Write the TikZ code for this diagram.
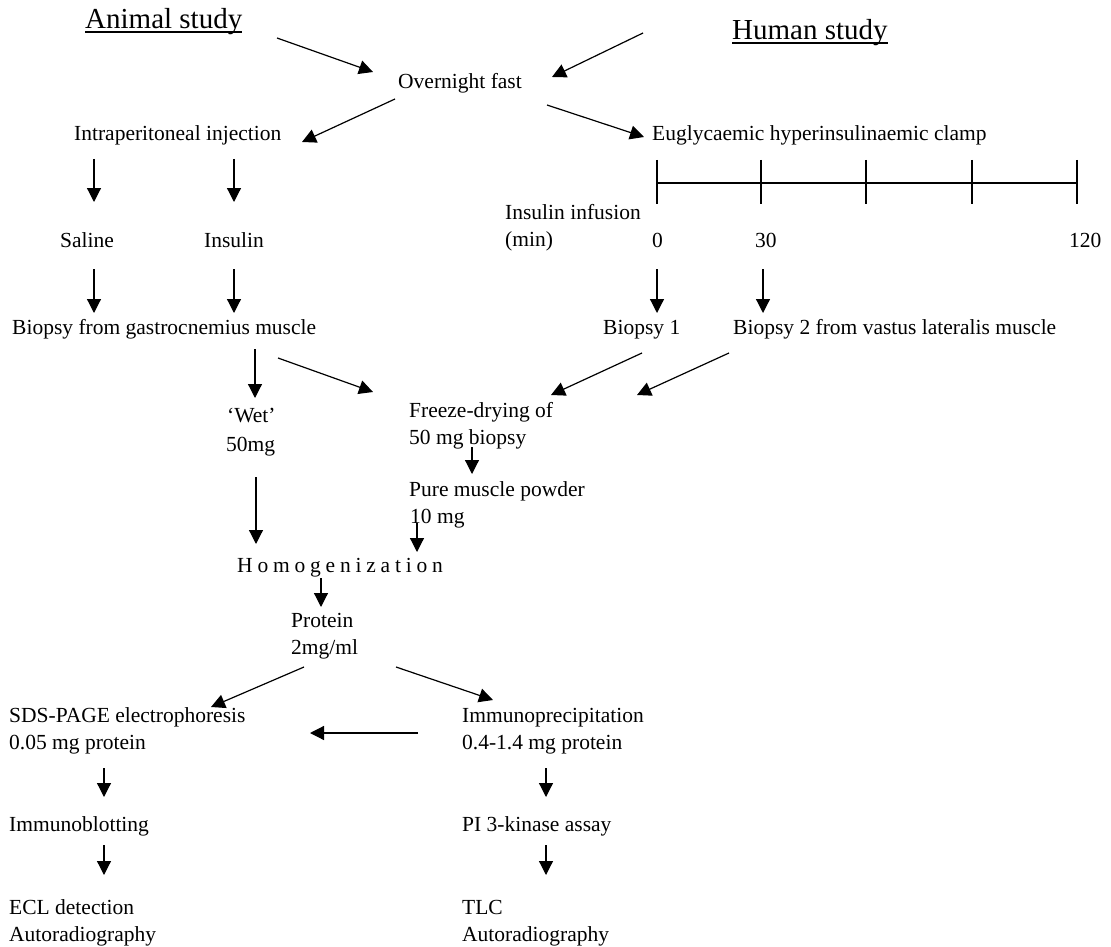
\documentclass[tikz,border=0pt]{standalone}
\usepackage{fontspec}
\setmainfont{Liberation Serif}
\usetikzlibrary{arrows.meta}
\begin{document}
\begin{tikzpicture}[x=1pt,y=-1pt,
  lbl/.style={anchor=base west, inner sep=0pt, font=\fontsize{21.5}{27}\selectfont},
  hd/.style={anchor=base west, inner sep=0pt, font=\fontsize{29}{35}\selectfont},
  arr/.style={-{Triangle[length=14pt,width=14pt]}, line width=1.2pt},
  tl/.style={line width=1.2pt}]
\useasboundingbox (0,0) rectangle (1111,947);
% headings
\node[hd] (animal) at (85,29) {Animal study};
\node[hd] (human) at (732,40) {Human study};
\draw[line width=1.3pt] ([yshift=-3pt]animal.base west) -- ([yshift=-3pt]animal.base east);
\draw[line width=1.3pt] ([yshift=-3pt]human.base west) -- ([yshift=-3pt]human.base east);
% texts
\node[lbl] (fast) at (398,89) {Overnight fast};
\node[lbl] (ip) at (74,141) {Intraperitoneal injection};
\node[lbl] (clamp) at (652,141) {Euglycaemic hyperinsulinaemic clamp};
\node[lbl] (inf1) at (505,219) {Insulin infusion};
\node[lbl] (inf2) at (505,246) {(min)};
\node[lbl] (t0) at (652,247) {0};
\node[lbl] (t30) at (755,247) {30};
\node[lbl] (t120) at (1069,247) {120};
\node[lbl] (saline) at (60,247) {Saline};
\node[lbl] (insulin) at (204,247) {Insulin};
\node[lbl] (bgas) at (12,334) {Biopsy from gastrocnemius muscle};
\node[lbl] (b1) at (603,334) {Biopsy 1};
\node[lbl] (b2) at (733,334) {Biopsy 2 from vastus lateralis muscle};
\node[lbl] (wet1) at (227,422) {‘Wet’};
\node[lbl] (wet2) at (226,451) {50mg};
\node[lbl] (fd1) at (409,417) {Freeze-drying of};
\node[lbl] (fd2) at (409,444) {50 mg biopsy};
\node[lbl] (pm1) at (409,496) {Pure muscle powder};
\node[lbl] (pm2) at (410,523) {10 mg};
\node[lbl] (hom) at (237,572) {\spaceskip=4.8pt H o m o g e n i z a t i o n};
\node[lbl] (prot1) at (291,627) {Protein};
\node[lbl] (prot2) at (291,654) {2mg/ml};
\node[lbl] (sds1) at (9,722) {SDS-PAGE electrophoresis};
\node[lbl] (sds2) at (9,749) {0.05 mg protein};
\node[lbl] (ipp1) at (462,722) {Immunoprecipitation};
\node[lbl] (ipp2) at (462,749) {0.4-1.4 mg protein};
\node[lbl] (blot) at (9,831) {Immunoblotting};
\node[lbl] (pi3) at (462,831) {PI 3-kinase assay};
\node[lbl] (ecl1) at (9,914) {ECL detection};
\node[lbl] (ecl2) at (9,941) {Autoradiography};
\node[lbl] (tlc1) at (462,914) {TLC};
\node[lbl] (tlc2) at (462,941) {Autoradiography};
% timeline
\draw[tl] (657,183) -- (1077,183);
\foreach \x in {657,761,866,972,1077} \draw[tl] (\x,160) -- (\x,204);
% arrow end points
\coordinate (a1s) at (277,38);  \coordinate (a1e) at (373,72);
\coordinate (a2s) at (643,33);  \coordinate (a2e) at (552,77);
\coordinate (a3s) at (395,99);  \coordinate (a3e) at (302,142);
\coordinate (a4s) at (547,105); \coordinate (a4e) at (644,137);
\coordinate (a5s) at (94,159);  \coordinate (a5e) at (94,202);
\coordinate (a6s) at (234,159); \coordinate (a6e) at (234,202);
\coordinate (a7s) at (94,269);  \coordinate (a7e) at (94,313);
\coordinate (a8s) at (234,269); \coordinate (a8e) at (234,313);
\coordinate (a9s) at (657,269); \coordinate (a9e) at (657,313);
\coordinate (a10s) at (763,269); \coordinate (a10e) at (763,313);
\coordinate (a11s) at (255,349); \coordinate (a11e) at (255,398);
\coordinate (a12s) at (278,358); \coordinate (a12e) at (373,392);
\coordinate (a13s) at (642,353); \coordinate (a13e) at (551,395);
\coordinate (a14s) at (729,353); \coordinate (a14e) at (637,395);
\coordinate (a15s) at (472,447); \coordinate (a15e) at (472,474);
\coordinate (a16s) at (256,477); \coordinate (a16e) at (256,544);
\coordinate (a17s) at (417,523); \coordinate (a17e) at (417,552);
\coordinate (a18s) at (321,578); \coordinate (a18e) at (321,607);
\coordinate (a19s) at (304,667); \coordinate (a19e) at (211,707);
\coordinate (a20s) at (396,667); \coordinate (a20e) at (493,700);
\coordinate (a21s) at (418,733); \coordinate (a21e) at (310,733);
\coordinate (a22s) at (104,768); \coordinate (a22e) at (104,797);
\coordinate (a23s) at (546,768); \coordinate (a23e) at (546,797);
\coordinate (a24s) at (104,845); \coordinate (a24e) at (104,875);
\coordinate (a25s) at (546,845); \coordinate (a25e) at (546,875);
\foreach \i in {1,...,25} \draw[arr] (a\i s) -- (a\i e);
\end{tikzpicture}
\end{document}
